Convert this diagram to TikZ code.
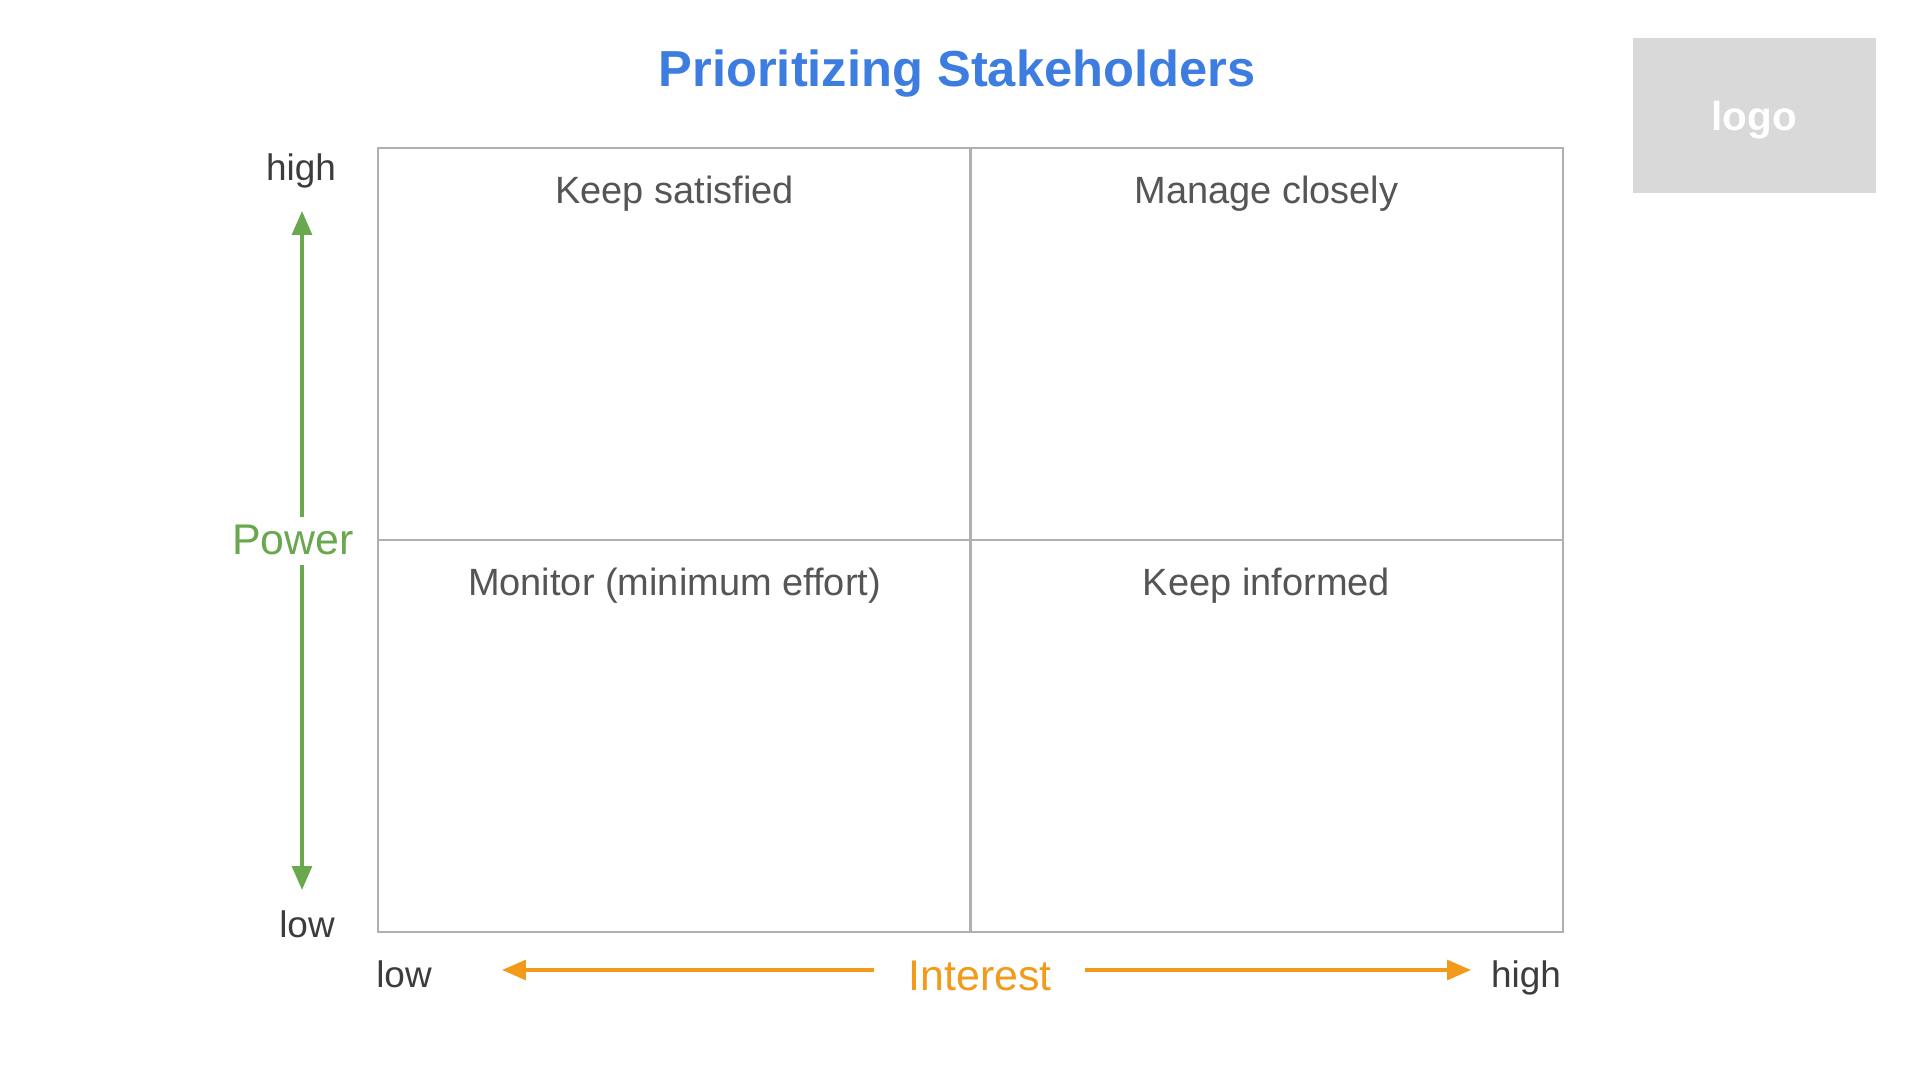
\documentclass[tikz,border=0pt]{standalone}
\usepackage{fontspec}
\setmainfont{Liberation Sans}
\usetikzlibrary{arrows.meta}

\definecolor{titleblue}{HTML}{3C7DDF}
\definecolor{powergreen}{HTML}{6AA84F}
\definecolor{interestorange}{HTML}{F29A1A}
\definecolor{gridgray}{HTML}{B0B0B0}
\definecolor{labelgray}{HTML}{555555}
\definecolor{axisgray}{HTML}{3C3C3C}
\definecolor{logogray}{HTML}{D9D9D9}

\begin{document}
\begin{tikzpicture}[x=0.01cm, y=-0.01cm,
  quad/.style={draw=gridgray, line width=0.55pt, minimum width=5.93cm,
               minimum height=3.92cm, inner sep=0pt, outer sep=0pt},
  qlabel/.style={anchor=base, text=labelgray, font=\fontsize{10.8}{13}\selectfont},
  axislabel/.style={anchor=base, text=axisgray, font=\fontsize{10.5}{12}\selectfont},
  axisname/.style={anchor=base, font=\fontsize{12.2}{14}\selectfont},
  garrow/.style={draw=powergreen, line width=1.05pt,
                 -{Triangle[length=6.8pt, width=5.6pt]}},
  oarrow/.style={draw=interestorange, line width=1.05pt,
                 -{Triangle[length=6.8pt, width=5.6pt]}}]

\useasboundingbox[fill=white] (0,0) rectangle (1920,1080);

% title and logo placeholder
\node[anchor=base, text=titleblue, font=\fontsize{14.4}{17}\selectfont\bfseries]
  (title) at (957,87) {Prioritizing Stakeholders};
\node[fill=logogray, minimum width=2.43cm, minimum height=1.55cm, inner sep=0pt]
  (logo) at (1754.5,115.5) {};
\node[anchor=base, text=white, font=\fontsize{11.5}{13}\selectfont\bfseries]
  (logotext) at (1754,131) {logo};

% the four quadrants
\node[quad] (ks) at (674.5,344) {};
\node[quad] (mc) at (1266.5,344) {};
\node[quad] (mo) at (674.5,736) {};
\node[quad] (ki) at (1266.5,736) {};

\node[qlabel] (kslabel) at (674.5,204) {Keep satisfied};
\node[qlabel] (mclabel) at (1266.5,204) {Manage closely};
\node[qlabel] (molabel) at (674.5,596) {Monitor (minimum effort)};
\node[qlabel] (kilabel) at (1266.5,596) {Keep informed};

% power axis
\node[axislabel] (phigh) at (301,181) {high};
\node[axislabel] (plow) at (307,938) {low};
\node[axisname, text=powergreen] (power) at (293,555) {Power};
\coordinate (pup0) at (302,517);
\coordinate (pup1) at (302,211);
\coordinate (pdn0) at (302,565);
\coordinate (pdn1) at (302,890);
\draw[garrow] (pup0) -- (pup1);
\draw[garrow] (pdn0) -- (pdn1);

% interest axis
\node[axislabel] (ilow) at (404,988) {low};
\node[axislabel] (ihigh) at (1526,988) {high};
\node[axisname, text=interestorange] (interest) at (980,991) {Interest};
\coordinate (ilf0) at (874,970);
\coordinate (ilf1) at (502,970);
\coordinate (irt0) at (1085,970);
\coordinate (irt1) at (1471,970);
\draw[oarrow] (ilf0) -- (ilf1);
\draw[oarrow] (irt0) -- (irt1);
\end{tikzpicture}
\end{document}
